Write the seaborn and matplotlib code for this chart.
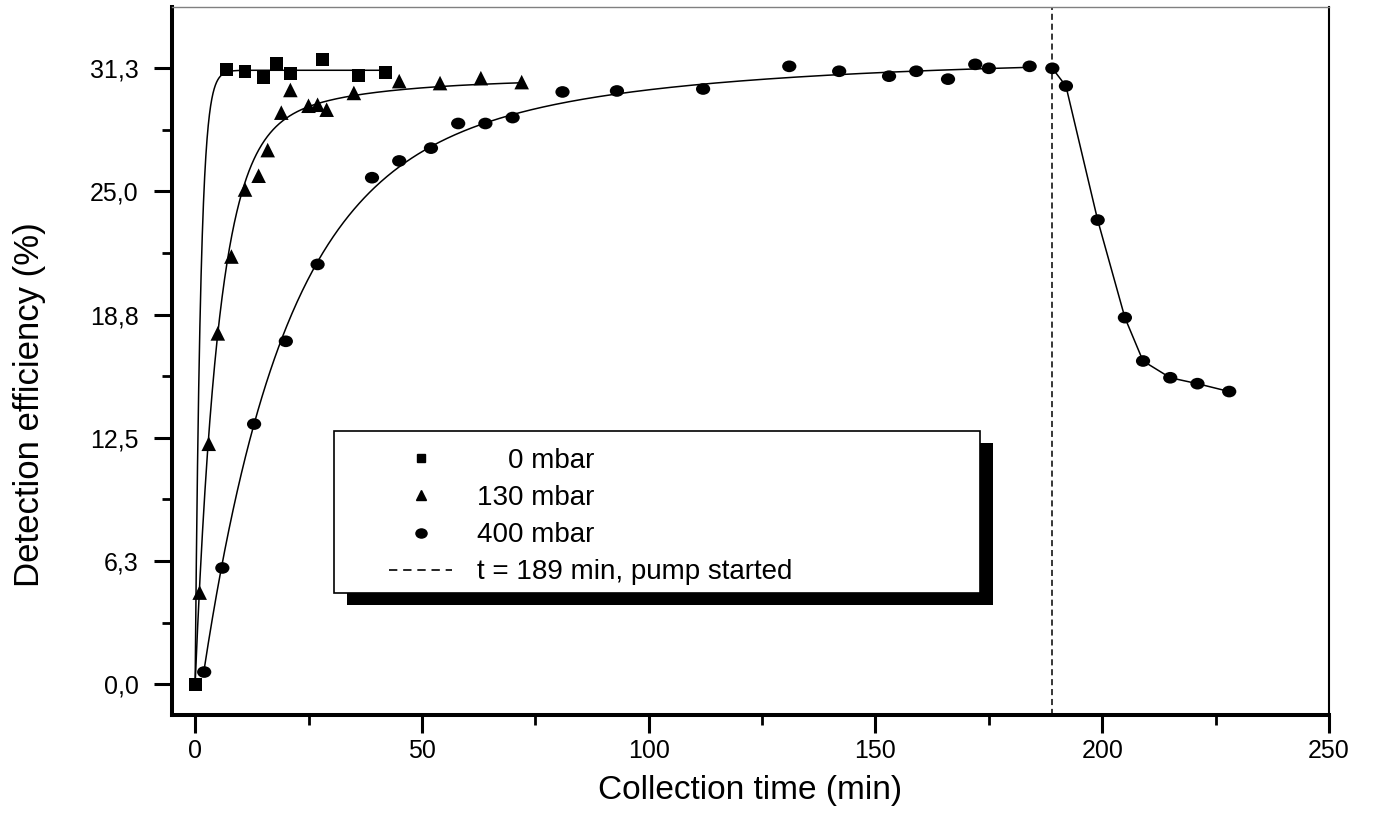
import numpy as np
import matplotlib
matplotlib.use("Agg")
import matplotlib.pyplot as plt
import seaborn as sns
from matplotlib.lines import Line2D
from matplotlib.path import Path
from matplotlib.patches import Rectangle
from matplotlib.ticker import MultipleLocator

# ---- measured detection efficiency (%) versus collection time (min) ----
time_0 = [0, 7, 11, 15, 18, 21, 28, 36, 42]
eff_0 = [0.0, 31.2, 31.1, 30.8, 31.5, 31.0, 31.7, 30.9, 31.05]

time_130 = [1, 3, 5, 8, 11, 14, 16, 19, 21, 25, 27, 29, 35, 45, 54, 63, 72]
eff_130 = [4.65, 12.2, 17.8, 21.7, 25.1, 25.8, 27.1, 29.0, 30.15, 29.35, 29.4,
           29.15, 30.0, 30.6, 30.5, 30.75, 30.55]

time_400 = [2, 6, 13, 20, 27, 39, 45, 52, 58, 64, 70, 81, 93, 112, 131, 142,
            153, 159, 166, 172, 175, 184, 189, 192, 199, 205, 209, 215, 221, 228]
eff_400 = [0.62, 5.9, 13.2, 17.4, 21.3, 25.7, 26.55, 27.2, 28.45, 28.45, 28.75,
           30.05, 30.1, 30.2, 31.35, 31.1, 30.85, 31.1, 30.7, 31.45, 31.25, 31.35,
           31.25, 30.35, 23.55, 18.6, 16.4, 15.55, 15.25, 14.85]

pump_start = 189  # min

# exponential saturation fits: y = plateau - sum(amp * exp(-(t - lag) / tau))
fit_0 = dict(plateau=31.15, amps=[31.15], taus=[1.2], lag=0.0, span=(0, 42))
fit_130 = dict(plateau=30.7, amps=[27.44, 3.26], taus=[5.07, 25.0], lag=0.0, span=(0, 72))
fit_400 = dict(plateau=31.7, amps=[25.08, 6.62], taus=[17.4, 65.0], lag=1.5, span=(2, 184))

x_ticks = [0, 50, 100, 150, 200, 250]
y_ticks = [0, 6.25, 12.5, 18.75, 25, 31.25]
y_tick_labels = ["0,0", "6,3", "12,5", "18,8", "25,0", "31,3"]
legend_labels = ["    0 mbar", "130 mbar", "400 mbar", "t = 189 min, pump started"]


def fit_curve(fit, n=800):
    t = np.linspace(fit["span"][0], fit["span"][1], n)
    y = np.full_like(t, fit["plateau"])
    for a, tau in zip(fit["amps"], fit["taus"]):
        y -= a * np.exp(-(t - fit["lag"]) / tau)
    return t, y


sns.set_theme(style="ticks", rc={
    "text.color": "black", "axes.labelcolor": "black",
    "xtick.color": "black", "ytick.color": "black",
    "axes.edgecolor": "black",
})
plt.rcParams["font.family"] = ["Liberation Sans", "DejaVu Sans"]

fig = plt.figure(figsize=(13.73, 8.21), dpi=100)
ax = fig.add_axes([0.12527, 0.12911, 0.84268, 0.86236])

# fitted curves
line_kw = dict(color="black", linewidth=1.1, estimator=None, sort=False, ax=ax, zorder=2)
for fit in (fit_0, fit_130, fit_400):
    tf, yf = fit_curve(fit)
    sns.lineplot(x=tf, y=yf, **line_kw)

# pump-down segment joined point to point
t400 = np.array(time_400)
e400 = np.array(eff_400)
after = t400 >= pump_start
sns.lineplot(x=t400[after], y=e400[after], **line_kw)

# pump start marker
dash = (0, (4, 2.5))
ax.axvline(pump_start, color="black", linewidth=1.1, linestyle=dash, zorder=1.5)

# measured points
circle = Path.unit_circle()
ellipse = Path(circle.vertices * np.array([1.0, 0.82]), circle.codes)
sns.scatterplot(x=time_0, y=eff_0, marker="s", s=85, color="black",
                edgecolor="none", ax=ax, zorder=3)
sns.scatterplot(x=time_130, y=eff_130, marker="^", s=110, color="black",
                edgecolor="none", ax=ax, zorder=3)
sns.scatterplot(x=time_400, y=eff_400, marker=ellipse, s=105, color="black",
                edgecolor="none", ax=ax, zorder=3)

ax.set_xlim(-5.1, 250)
ax.set_ylim(-1.56, 34.36)

ax.set_xticks(x_ticks)
ax.xaxis.set_minor_locator(MultipleLocator(25))
ax.set_yticks(y_ticks, labels=y_tick_labels)
ax.yaxis.set_minor_locator(MultipleLocator(3.125))
ax.tick_params(which="major", direction="out", length=13, width=2.2,
               labelsize=18, colors="black")
ax.tick_params(which="minor", direction="out", length=7.5, width=2.0, colors="black")
ax.tick_params(axis="x", which="major", pad=4)
ax.tick_params(axis="y", which="major", pad=11)

for side in ("left", "bottom"):
    ax.spines[side].set_linewidth(2.9)
    ax.spines[side].set_color("black")
ax.spines["top"].set_linewidth(1.0)
ax.spines["top"].set_color("#808080")
ax.spines["right"].set_linewidth(1.5)
ax.spines["right"].set_color("black")

ax.set_xlabel("Collection time (min)", fontsize=24)
ax.set_ylabel("Detection efficiency (%)", fontsize=25)
ax.xaxis.set_label_coords(0.5, -0.0847)
ax.yaxis.set_label_coords(-0.1089, 0.438)

# legend with a drop-shadow frame
handles = [
    Line2D([], [], linestyle="none", marker="s", markersize=6, color="black"),
    Line2D([], [], linestyle="none", marker="^", markersize=7, color="black"),
    Line2D([], [], linestyle="none", marker=ellipse, markersize=8, color="black"),
    Line2D([], [], color="black", linewidth=1.2, linestyle=(0, (5, 3.5))),
]
ax.legend(handles, legend_labels, loc="upper left", bbox_to_anchor=(0.1876, 0.3771),
          frameon=False, borderpad=0, borderaxespad=0, handlelength=2.27,
          handletextpad=0.9, labelspacing=0.4, fontsize=20)

frame_x, frame_y, frame_w, frame_h = 0.1400, 0.1723, 0.5583, 0.2288
ax.add_patch(Rectangle((frame_x + 0.01124, frame_y - 0.01695), frame_w, frame_h,
                       transform=ax.transAxes, facecolor="black", edgecolor="black",
                       linewidth=0, zorder=4.5))
ax.add_patch(Rectangle((frame_x, frame_y), frame_w, frame_h,
                       transform=ax.transAxes, facecolor="white", edgecolor="black",
                       linewidth=1.2, zorder=4.6))

fig.savefig("out.png", dpi=100)
